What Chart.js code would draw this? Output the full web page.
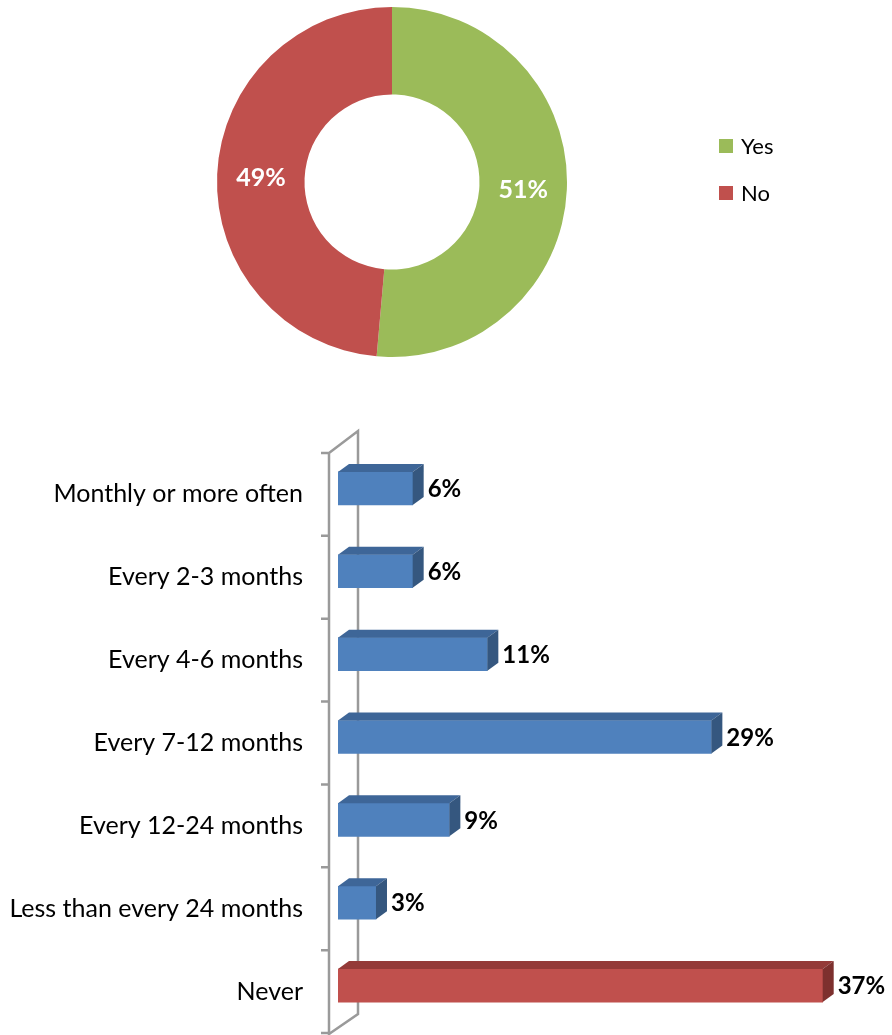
<!DOCTYPE html>
<html>
<head>
<meta charset="utf-8">
<script src="https://cdn.jsdelivr.net/npm/chart.js@4.4.1/dist/chart.umd.min.js"></script>
<style>
  html, body { margin: 0; padding: 0; background: #fff; }
  body { width: 892px; height: 1035px; position: relative; overflow: hidden; }
  #pieChart { position: absolute; left: 0; top: 0; }
  #barChart { position: absolute; left: 0; top: 400px; }
</style>
</head>
<body>
<canvas id="pieChart" width="892" height="380"></canvas>
<canvas id="barChart" width="892" height="683"></canvas>
<script>
// doughnut data
const pieLabels = ['Yes', 'No'];
const pieValues = [51.4, 48.6];
const pieColors = ['#9BBB59', '#C0504D'];

// bar data
const barLabels = ['Monthly or more often', 'Every 2-3 months', 'Every 4-6 months', 'Every 7-12 months',
  'Every 12-24 months', 'Less than every 24 months', 'Never'];
const barValues = [5.7, 5.7, 11.4, 28.5, 8.5, 2.9, 37.0];
const barFront = ['#4F81BD', '#4F81BD', '#4F81BD', '#4F81BD', '#4F81BD', '#4F81BD', '#C0504D'];
const barTop = ['#3E6698', '#3E6698', '#3E6698', '#3E6698', '#3E6698', '#3E6698', '#943A38'];
const barSide = ['#35577F', '#35577F', '#35577F', '#35577F', '#35577F', '#35577F', '#7D302E'];

const FONT = 'Lato, "Open Sans", sans-serif';
const DEPTH_X = 11, DEPTH_Y = -8, SHIFT = -6;

// labels inside the ring + legend on the right
const pieExtras = {
  id: 'pieExtras',
  afterDatasetsDraw(chart) {
    const ctx = chart.ctx;
    const meta = chart.getDatasetMeta(0);
    ctx.save();
    ctx.font = 'bold 25px ' + FONT;
    ctx.fillStyle = '#fff';
    ctx.textAlign = 'center';
    ctx.textBaseline = 'middle';
    meta.data.forEach((arc, i) => {
      const p = arc.tooltipPosition();
      ctx.fillText(Math.round(pieValues[i]) + '%', p.x, p.y + 2);
    });
    // legend
    ctx.font = '22px ' + FONT;
    ctx.textAlign = 'left';
    pieLabels.forEach((lab, i) => {
      const y = 146 + i * 47;
      ctx.fillStyle = pieColors[i];
      ctx.fillRect(719, y - 7, 14, 14);
      ctx.fillStyle = '#000';
      ctx.fillText(lab, 741, y + 1);
    });
    ctx.restore();
  }
};

new Chart(document.getElementById('pieChart'), {
  type: 'doughnut',
  data: {
    labels: pieLabels,
    datasets: [{ data: pieValues, backgroundColor: pieColors, borderWidth: 0 }]
  },
  options: {
    responsive: false,
    animation: false,
    cutout: '50%',
    layout: { padding: { left: 217, right: 325, top: 7, bottom: 23 } },
    plugins: { legend: { display: false }, tooltip: { enabled: false } }
  },
  plugins: [pieExtras]
});

// wall, 3d faces, value labels
const bar3d = {
  id: 'bar3d',
  beforeDatasetsDraw(chart) {
    const ctx = chart.ctx;
    const a = chart.chartArea;
    const ys = chart.scales.y;
    const fx = a.left - 9, bx = a.left + 20;
    ctx.save();
    ctx.strokeStyle = '#9A9A9A';
    ctx.lineWidth = 2.5;
    ctx.beginPath();
    // back wall edge
    ctx.moveTo(fx, a.top);
    ctx.lineTo(bx, a.top - 22);
    ctx.lineTo(bx, a.bottom - 19);
    ctx.lineTo(fx, a.bottom + 1);
    // front edge
    ctx.moveTo(fx, a.top - 1);
    ctx.lineTo(fx, a.bottom + 2);
    // ticks between categories
    const step = ys.getPixelForValue(1) - ys.getPixelForValue(0);
    for (let i = 0; i <= barLabels.length; i++) {
      const y = ys.getPixelForValue(i) - step / 2;
      ctx.moveTo(fx - 8, y);
      ctx.lineTo(fx, y);
    }
    ctx.stroke();
    ctx.restore();
    ctx.save();
    ctx.translate(0, SHIFT);
  },
  afterDatasetsDraw(chart) {
    const ctx = chart.ctx;
    ctx.restore();
    const meta = chart.getDatasetMeta(0);
    ctx.save();
    ctx.translate(0, SHIFT);
    meta.data.forEach((bar, i) => {
      const top = bar.y - bar.height / 2, bot = bar.y + bar.height / 2;
      const x0 = bar.base, x1 = bar.x;
      ctx.fillStyle = barTop[i];
      ctx.beginPath();
      ctx.moveTo(x0, top);
      ctx.lineTo(x0 + DEPTH_X, top + DEPTH_Y);
      ctx.lineTo(x1 + DEPTH_X, top + DEPTH_Y);
      ctx.lineTo(x1, top);
      ctx.closePath();
      ctx.fill();
      ctx.fillStyle = barSide[i];
      ctx.beginPath();
      ctx.moveTo(x1, top);
      ctx.lineTo(x1 + DEPTH_X, top + DEPTH_Y);
      ctx.lineTo(x1 + DEPTH_X, bot + DEPTH_Y);
      ctx.lineTo(x1, bot);
      ctx.closePath();
      ctx.fill();
      ctx.fillStyle = '#000';
      ctx.font = 'bold 24px ' + FONT;
      ctx.textAlign = 'left';
      ctx.textBaseline = 'middle';
      ctx.fillText(Math.round(barValues[i]) + '%', x1 + DEPTH_X + 4, bar.y + 1);
    });
    ctx.restore();
  }
};

new Chart(document.getElementById('barChart'), {
  type: 'bar',
  data: {
    labels: barLabels,
    datasets: [{ data: barValues, backgroundColor: barFront, borderWidth: 0, barThickness: 33 }]
  },
  options: {
    indexAxis: 'y',
    responsive: false,
    animation: false,
    layout: { padding: { left: 0, right: 30, top: 53, bottom: 0 } },
    scales: {
      x: { display: false, min: 0, max: 40 },
      y: {
        afterFit(scale) { scale.width = 338; },
        grid: { display: false, drawTicks: false },
        border: { display: false },
        ticks: { padding: 35, color: '#000', font: { family: FONT, size: 25 } }
      }
    },
    plugins: { legend: { display: false }, tooltip: { enabled: false } }
  },
  plugins: [bar3d]
});
</script>
</body>
</html>
